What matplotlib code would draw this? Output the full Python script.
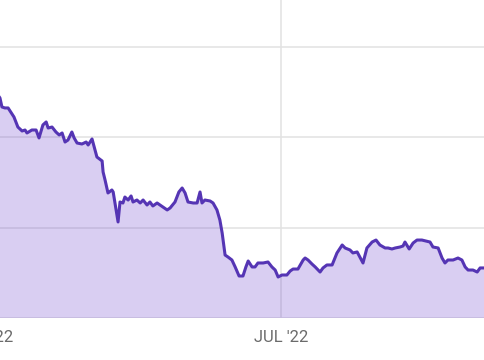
import matplotlib
matplotlib.use("Agg")
import matplotlib.pyplot as plt
import matplotlib.dates as mdates
import numpy as np
import datetime as dt

# Days since 2022-04-01 and values (arbitrary units, gridlines every 10)
days = [3.4, 4.6, 5.2, 6.1, 7.1, 8.3, 8.9, 10.1, 11.4, 12.3, 12.9, 14.4, 15.7, 16.6, 17.8,
        18.8, 19.4, 20.6, 21.8, 22.8, 23.7, 24.6, 25.5, 26.7, 27.4, 28.3, 29.8, 31.1, 31.7,
        32.9, 33.8, 34.4, 36.0, 36.3, 36.9, 37.8, 39.0, 39.4, 40.9, 41.5, 42.4, 43.0, 44.0,
        44.9, 45.5, 46.7, 47.7, 48.6, 49.8, 50.7, 51.6, 52.9, 53.8, 54.7, 56.0, 56.9, 58.4,
        59.6, 60.6, 61.5, 62.4, 64.0, 65.2, 66.1, 66.7, 67.6, 69.2, 70.1, 71.3, 72.2, 72.9,
        73.8, 74.7, 75.9, 76.9, 78.1, 79.3, 80.2, 80.9, 82.1, 83.0, 83.9, 85.5, 87.0, 88.2,
        89.2, 90.1, 91.3, 92.8, 93.8, 94.7, 96.2, 97.8, 98.4, 99.3, 100.5, 101.5, 103.0,
        103.9, 105.1, 106.7, 108.2, 109.8, 110.7, 112.2, 113.1, 114.4, 116.2, 117.4, 119.0,
        120.2, 121.4, 123.0, 123.9, 125.1, 126.1, 127.6, 128.5, 129.1, 130.4, 131.6, 132.8,
        134.3, 135.6, 136.8, 137.7, 139.3, 140.5, 141.4, 142.3, 143.9, 145.4, 146.6, 147.6,
        148.5, 150.0, 151.3, 152.2, 153.7, 155.0]
values = [25.02, 24.35, 23.36, 23.25, 23.25, 22.58, 22.25, 21.14, 20.70, 20.81, 20.48, 20.81,
          20.81, 19.93, 21.37, 21.70, 21.03, 21.14, 20.59, 20.26, 20.48, 19.48, 19.70, 20.59,
          19.93, 19.37, 19.26, 19.48, 19.15, 19.82, 18.60, 17.82, 17.38, 16.16, 15.28, 13.84,
          14.17, 13.95, 10.63, 12.84, 12.73, 13.39, 13.06, 13.51, 12.84, 13.06, 12.73, 13.06,
          12.51, 12.84, 12.40, 12.73, 12.51, 12.29, 11.96, 12.18, 12.84, 13.95, 14.39, 13.84,
          12.84, 12.73, 12.73, 13.95, 12.73, 13.06, 12.95, 12.73, 11.96, 10.85, 9.41, 6.97,
          6.75, 6.42, 5.65, 4.65, 4.65, 5.65, 6.31, 5.65, 5.65, 6.09, 6.09, 6.20, 5.65, 5.31,
          4.54, 4.76, 4.76, 5.20, 5.42, 5.42, 6.42, 6.64, 6.42, 5.98, 5.65, 5.09, 5.54, 5.87,
          5.87, 7.20, 8.08, 7.75, 7.53, 7.20, 7.31, 6.09, 7.75, 8.41, 8.63, 8.08, 7.75, 7.75,
          7.64, 7.75, 7.86, 7.97, 8.41, 7.64, 8.30, 8.63, 8.63, 8.52, 8.41, 7.86, 7.75, 6.64,
          6.09, 6.42, 6.42, 6.64, 6.42, 5.65, 5.31, 5.31, 5.09, 5.54, 5.54, 5.54]
y_ticks = [0, 10, 20, 30]

base = mdates.date2num(dt.datetime(2022, 4, 1))
x = base + np.array(days)
y = np.array(values)

fig = plt.figure(figsize=(4.85, 3.6), dpi=100)
ax = fig.add_axes([-40 / 485, 42 / 360, 565 / 485, 318 / 360])

line_color = "#5535b4"
ax.fill_between(x, 0, y, color=(120 / 255, 80 / 255, 210 / 255), alpha=0.28, lw=0, zorder=2)
ax.plot(x, y, color=line_color, lw=2.2, solid_joinstyle="round", solid_capstyle="round", zorder=3)

ax.set_xlim(base - 7.69, base + 166.0)
ax.set_ylim(0, 35.2)
ax.set_yticks(y_ticks)
ax.xaxis.set_major_locator(mdates.MonthLocator(bymonth=[1, 4, 7, 10]))
ax.xaxis.set_major_formatter(
    matplotlib.ticker.FuncFormatter(lambda v, p: mdates.num2date(v).strftime("%b '%y").upper()))
ax.grid(True, color="#e2e2e2", lw=1.1, zorder=1)
ax.set_axisbelow(True)
for s in ax.spines.values():
    s.set_visible(False)
ax.tick_params(axis="both", length=0)
ax.tick_params(axis="x", pad=9, labelsize=12, labelcolor="#6b6b6b")
for lab in ax.get_xticklabels():
    lab.set_fontfamily(["Roboto", "DejaVu Sans"])
ax.tick_params(axis="y", labelleft=False, labelright=False)

fig.savefig("out.png", dpi=100)
